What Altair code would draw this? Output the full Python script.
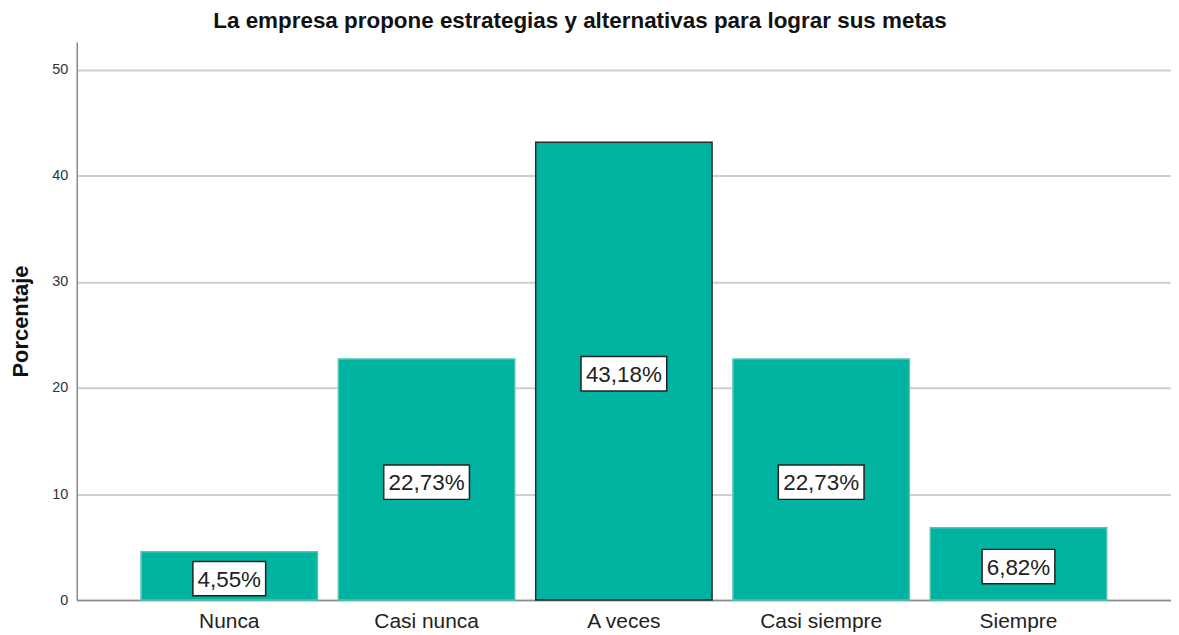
import altair as alt
import pandas as pd

categories = ["Nunca", "Casi nunca", "A veces", "Casi siempre", "Siempre"]
percentages = [4.55, 22.73, 43.18, 22.73, 6.82]
labels = ["4,55%", "22,73%", "43,18%", "22,73%", "6,82%"]
highlighted = [False, False, True, False, False]

df = pd.DataFrame({
    "cat": categories,
    "pct": percentages,
    "label": labels,
    "hl": highlighted,
})
df["mid"] = df["pct"] / 2 - 0.25
df["box_lo"] = df["mid"] - 1.62
df["box_hi"] = df["mid"] + 1.62
df["box_w"] = df["label"].str.len() * 13 + 8

FONT = "Liberation Sans"
x_enc = alt.X(
    "cat:N", sort=categories, title=None,
    scale=alt.Scale(paddingInner=0.106, paddingOuter=0.326),
    axis=alt.Axis(labelAngle=0, labelFontSize=21, labelColor="#222222",
                  labelFont=FONT, labelPadding=11, ticks=False,
                  domainColor="#8a8a8a", domainWidth=1.5, grid=False),
)
y_scale = alt.Scale(domain=[0, 52.63], nice=False)

base = alt.Chart(df)

bars = base.mark_bar(fill="#00B2A0", strokeWidth=1.5).encode(
    x=x_enc,
    y=alt.Y("pct:Q", scale=y_scale, title="Porcentaje",
            axis=alt.Axis(values=[0, 10, 20, 30, 40, 50], labelFontSize=14.5,
                          labelColor="#333333", labelFont=FONT, ticks=False,
                          labelPadding=9, domainColor="#8a8a8a", domainWidth=1.5,
                          gridColor="#cfcfcf", gridWidth=2,
                          titleFont=FONT, titleFontSize=22, titleFontWeight="bold",
                          titleColor="#111111", titleX=-56, titleY=280,
                          titleAngle=-90, titleBaseline="middle", titleAlign="center")),
    stroke=alt.condition("datum.hl", alt.value("#2b2b2b"), alt.value("#4cc7b8")),
)

boxes = base.mark_bar(fill="white", stroke="#222222", strokeWidth=1.5).encode(
    x=alt.X("cat:N", sort=categories),
    y=alt.Y("box_lo:Q", scale=y_scale),
    y2="box_hi:Q",
    size=alt.Size("box_w:Q", scale=None, legend=None),
)

texts = base.mark_text(fontSize=22.5, font=FONT, color="#222222",
                       baseline="middle", align="center", dy=1).encode(
    x=alt.X("cat:N", sort=categories),
    y=alt.Y("mid:Q", scale=y_scale),
    text="label:N",
)

chart = alt.layer(bars, boxes, texts).properties(
    width=1098,
    height=560,
    autosize=alt.AutoSizeParams(type="none"),
    padding={"left": 69, "top": 33, "right": 0, "bottom": 45},
    title=alt.TitleParams(
        "La empresa propone estrategias y alternativas para lograr sus metas",
        font=FONT, fontSize=22.5, fontWeight="bold", color="#111111",
        anchor="middle", dx=-44, offset=10,
    ),
).configure_view(stroke=None)

chart.save("out.html", embed_options={"renderer": "svg", "actions": False})
